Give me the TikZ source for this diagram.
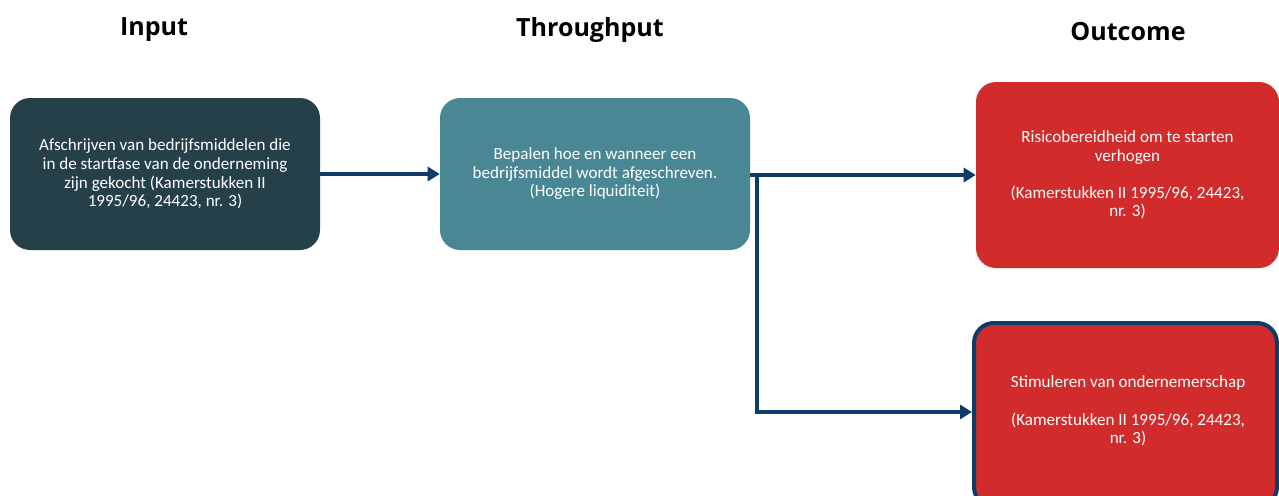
\documentclass[tikz,border=0pt]{standalone}
\usepackage{fontspec}
\setmainfont{Carlito}
\newfontfamily\headfont{Open Sans}
\usetikzlibrary{arrows.meta}
\definecolor{inbox}{RGB}{38,64,74}
\definecolor{tpbox}{RGB}{74,135,148}
\definecolor{outred}{RGB}{209,43,43}
\definecolor{navy}{RGB}{14,59,104}
\tikzset{
  box/.style={rounded corners=15pt, inner sep=0pt, text=white, align=center,
    font=\fontsize{12.8}{13.9}\selectfont},
  heading/.style={font=\headfont\bfseries\fontsize{18.8}{20}\selectfont, inner sep=0pt},
  conn/.style={draw=navy, line width=3.2pt, -{Triangle[length=9pt,width=10.5pt]}},
  plain/.style={draw=navy, line width=3.2pt}
}
\begin{document}
\begin{tikzpicture}[x=0.75pt,y=-0.75pt]
\useasboundingbox (0,0) rectangle (1279,496);
\node[heading] (h1) at (154,30) {Input};
\node[heading] (h2) at (590,30) {Throughput};
\node[heading] (h3) at (1128,32) {Outcome};

\node[box, fill=inbox, minimum width=232.5pt, minimum height=114pt] (in) at (165,174)
  {Afschrijven van bedrijfsmiddelen die\\in de startfase van de onderneming\\zijn gekocht (Kamerstukken II\\1995/96, 24423, nr. 3)};
\node[box, fill=tpbox, minimum width=232.5pt, minimum height=114pt] (tp) at (595,174)
  {Bepalen hoe en wanneer een\\bedrijfsmiddel wordt afgeschreven.\\(Hogere liquiditeit)};
\node[box, fill=outred, minimum width=227.25pt, minimum height=139.5pt] (o1) at (1127.5,175)
  {Risicobereidheid om te starten\\verhogen\\[13.9pt](Kamerstukken II 1995/96, 24423,\\nr. 3)};
\node[box, fill=outred, draw=navy, line width=3pt, minimum width=227.25pt, minimum height=138pt] (o2) at (1125.5,415) {};
\node[box] (o2t) at (1128,411)
  {Stimuleren van ondernemerschap\\[13.9pt](Kamerstukken II 1995/96, 24423,\\nr. 3)};

\draw[conn] (in.east) -- (tp.west);
\coordinate (br) at (757,175);
\coordinate (br2) at (757,412);
\draw[conn] (tp.east |- br) -- (o1.west);
\draw[plain] (br) -- ++(0,1.5);
\draw[conn] (br) -- (br2) -- (br2 -| o2.west);
\end{tikzpicture}
\end{document}
